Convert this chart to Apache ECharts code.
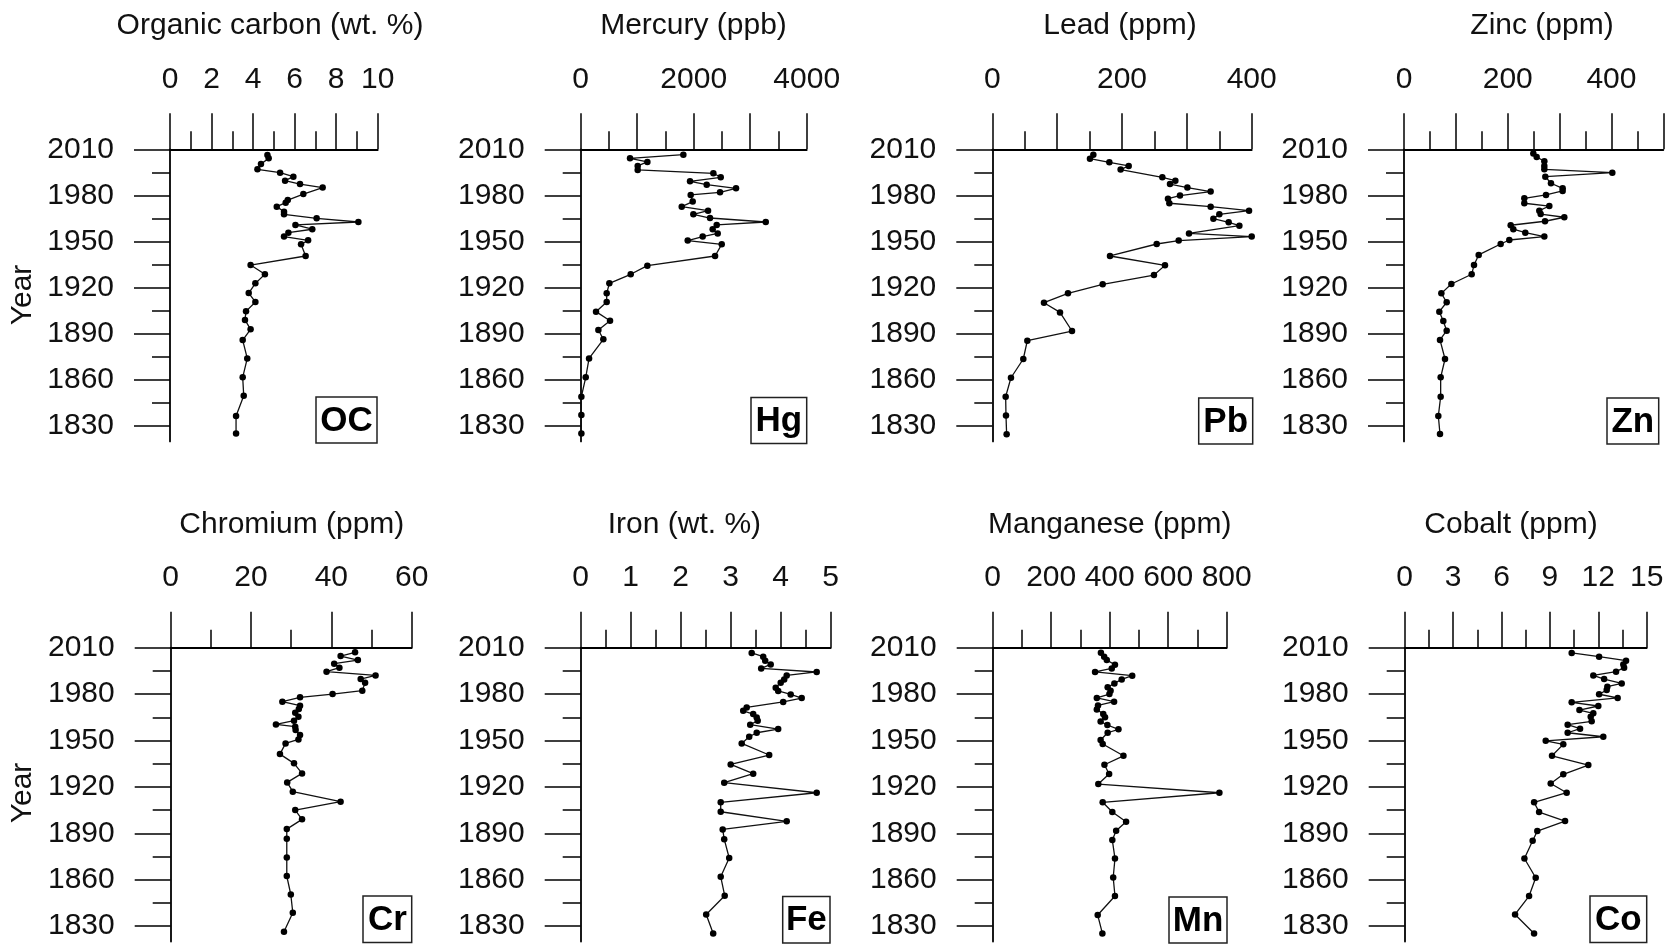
<!DOCTYPE html>
<html><head><meta charset="utf-8">
<script src="https://cdn.jsdelivr.net/npm/echarts@6/dist/echarts.min.js"></script>
<style>html,body{margin:0;padding:0;background:#fff}#c{width:1673px;height:945px}</style>
</head><body><div id="c"></div>
<script>
// ---------------- DATA ----------------
const majorYears = [2010, 1980, 1950, 1920, 1890, 1860, 1830];
const minorYears = [1995, 1965, 1935, 1905, 1875, 1845];

const ocYears = [2006.3,2004.1,2000.5,1997.0,1994.8,1992.2,1989.6,1987.4,1985.1,1980.9,1977.0,1975.3,1972.7,1969.4,1967.7,1965.1,1962.7,1960.8,1958.0,1955.8,1953.2,1950.8,1948.2,1940.6,1934.7,1928.7,1922.8,1916.5,1910.7,1904.6,1899.0,1892.9,1885.9,1874.0,1861.7,1849.7,1836.5,1825.2];
const ocValues = [4.69,4.75,4.38,4.21,5.30,5.94,5.54,6.26,7.35,6.42,5.67,5.57,5.14,5.49,5.49,7.06,9.07,6.04,6.85,5.70,5.49,6.65,6.31,6.53,3.88,4.57,4.11,3.79,4.11,3.66,3.61,3.88,3.50,3.72,3.50,3.55,3.18,3.18];

const hgYears = [2006.5,2004.1,2001.8,1999.2,1996.6,1994.4,1991.8,1989.2,1987.0,1984.6,1982.0,1980.3,1976.0,1972.7,1970.1,1967.7,1965.3,1962.7,1960.8,1958.0,1955.3,1953.2,1950.6,1948.2,1940.6,1934.3,1928.7,1922.8,1916.3,1910.7,1904.4,1898.5,1892.5,1886.4,1874.0,1861.7,1849.1,1837.2,1825.2];
const hgValues = [1817,873,1180,1009,1009,2348,2478,1935,2230,2749,2466,1947,1982,1788,2254,1994,2289,3275,2407,2336,2425,2159,1894,2496,2378,1180,885,507,460,460,271,519,313,401,148,89,12,12,12];

const pbYears = [2006.5,2003.9,2001.5,1999.2,1996.8,1991.8,1989.6,1987.4,1985.1,1982.5,1979.9,1977.9,1974.9,1972.7,1970.1,1967.7,1964.9,1962.5,1960.3,1955.3,1953.2,1950.6,1948.4,1940.6,1934.5,1928.2,1922.2,1916.3,1910.2,1903.9,1891.8,1885.5,1873.6,1861.4,1849.1,1836.9,1824.6];
const pbValues = [155.8,150.6,180.5,210.3,197.9,262.2,282.3,274.0,300.8,336.7,289.4,270.9,273.0,336.7,395.9,350.1,340.9,364.5,381.0,303.3,400.0,287.4,253.5,181.5,266.3,249.3,170.2,116.7,79.7,104.4,122.9,54.0,47.8,28.8,20.6,21.1,22.1];

const znYears = [2007.2,2005.0,2002.2,1999.2,1997.0,1994.8,1992.2,1987.9,1984.6,1982.9,1980.3,1978.1,1974.9,1973.1,1970.1,1967.9,1965.8,1963.2,1960.6,1958.0,1955.8,1953.2,1951.0,1948.4,1941.3,1934.7,1928.7,1922.4,1916.3,1910.5,1904.4,1898.3,1892.0,1886.0,1873.6,1861.7,1849.1,1836.5,1824.8];
const znValues = [249.4,255.8,270.6,270.6,270.6,401.7,272.5,283.4,305.9,305.9,273.8,232.0,232.0,280.2,260.9,263.5,309.1,271.9,205.7,210.8,233.9,270.6,203.1,186.4,144.0,135.0,130.5,91.3,72.0,82.3,68.1,75.8,82.3,69.4,79.1,70.7,70.7,66.2,69.4];

const crYears = [2007.0,2004.6,2002.0,1999.7,1997.1,1994.5,1992.1,1989.7,1987.4,1982.2,1980.0,1977.9,1975.1,1972.5,1970.3,1968.0,1965.4,1962.8,1960.4,1958.9,1956.7,1953.5,1950.7,1948.1,1941.2,1935.2,1928.7,1922.9,1916.9,1910.4,1905.0,1899.0,1892.7,1886.5,1874.4,1862.3,1850.4,1838.6,1826.3];
const crValues = [45.9,42.3,46.6,40.7,42.0,38.8,51.0,47.3,48.4,47.7,40.3,32.2,27.8,32.2,31.9,31.0,31.8,30.7,26.2,31.0,31.1,32.2,31.8,28.6,27.2,30.7,32.7,29.0,30.4,42.3,31.0,32.7,28.9,28.9,28.9,28.9,29.9,30.4,28.2];

const feYears = [2006.6,2004.2,2001.6,1999.2,1996.6,1994.3,1992.1,1989.5,1987.4,1984.1,1982.0,1979.8,1977.4,1974.9,1971.4,1969.2,1967.1,1964.9,1962.8,1960.2,1957.4,1955.0,1952.4,1948.1,1940.6,1934.5,1928.5,1922.7,1916.2,1910.0,1903.9,1897.7,1892.5,1886.2,1874.0,1861.9,1849.6,1837.5,1825.2];
const feValues = [3.42,3.65,3.69,3.80,3.61,4.72,4.12,4.07,4.00,3.90,3.95,4.20,4.42,4.05,3.32,3.25,3.45,3.52,3.54,3.39,3.95,3.52,3.37,3.22,3.77,3.00,3.45,2.87,4.72,2.80,2.80,4.12,2.84,2.87,2.97,2.80,2.88,2.51,2.65];

const mnYears = [2006.8,2004.2,2002.0,1999.0,1996.6,1994.3,1991.9,1989.5,1986.9,1984.4,1982.2,1980.0,1977.5,1975.1,1972.7,1970.1,1967.1,1965.0,1962.2,1960.0,1957.2,1955.0,1950.3,1947.7,1940.1,1934.3,1928.3,1921.8,1916.2,1910.0,1903.7,1897.5,1891.6,1885.6,1873.7,1861.4,1849.4,1837.1,1825.2];
const mnValues = [370,381,390,418,407,350,477,441,416,393,403,399,356,415,360,356,378,384,369,392,430,393,369,376,447,382,398,361,775,376,409,456,422,409,418,412,418,359,375];

const coYears = [2006.6,2004.2,2001.6,1999.2,1997.1,1994.5,1992.1,1989.7,1986.9,1984.8,1982.6,1979.9,1977.5,1974.7,1972.3,1969.7,1967.6,1965.4,1962.4,1960.2,1957.6,1955.0,1952.4,1949.8,1947.5,1940.1,1934.1,1928.1,1922.2,1916.2,1910.0,1903.7,1897.9,1891.4,1885.2,1873.7,1861.2,1849.4,1837.5,1825.2];
const coValues = [10.35,12.05,13.72,13.55,13.60,13.10,11.69,12.36,13.45,12.56,12.52,12.05,13.20,10.35,12.00,10.83,11.69,11.53,11.59,10.10,10.87,10.10,12.31,8.74,9.83,9.13,11.38,9.83,9.05,10.04,8.02,8.33,9.94,8.22,7.93,7.42,8.12,7.71,6.84,8.02];

const panelTitles = ['Organic carbon (wt. %)','Mercury (ppb)','Lead (ppm)','Zinc (ppm)','Chromium (ppm)','Iron (wt. %)','Manganese (ppm)','Cobalt (ppm)'];
const panelCodes = ['OC','Hg','Pb','Zn','Cr','Fe','Mn','Co'];
const axisMax = [10, 4000, 400, 500, 60, 5, 800, 15];
const axisStep = [2, 1000, 100, 100, 20, 1, 200, 3];
const axisLabelValues = [null, [0,2000,4000], [0,200,400], [0,200,400], null, null, null, null];
const yearLabel = 'Year';

const seriesYears = [ocYears, hgYears, pbYears, znYears, crYears, feYears, mnYears, coYears];
const seriesValues = [ocValues, hgValues, pbValues, znValues, crValues, feValues, mnValues, coValues];

// ---------------- LAYOUT ----------------
const FONT = '"Liberation Sans", Arial, Helvetica, sans-serif';
const rowTop = [149.3, 647.7];
const rowHeight = [292.1, 293.8];
const gridLeft = [170, 580.7, 992.3, 1404, 170.7, 580.7, 992.7, 1404.7];
const gridWidth = [207.7, 226, 259.4, 259.3, 241, 250, 234, 242];
const titleX = [270, 693.5, 1120, 1542, 291.8, 684.4, 1109.7, 1511];
const titleY = [26, 524.7];
const badgeBox = [
  [316, 397, 61, 46], [751, 397.5, 55.7, 46], [1198.7, 398, 54, 46], [1607, 398, 51.7, 46],
  [363, 896, 48.7, 46.5], [782.7, 896.5, 47.3, 46.5], [1169, 897, 58, 46], [1590, 896, 56.7, 46.5]
];
const yearPos = [[22.5, 295], [22.5, 793]];

const plain = v => String(v);
const grids = [], xAxes = [], yAxes = [], series = [], graphics = [];
const black = '#000';
for (let i = 0; i < 8; i++) {
  const row = i < 4 ? 0 : 1;
  grids.push({left: gridLeft[i], top: rowTop[row], width: gridWidth[i], height: rowHeight[row], containLabel: false});
  const lbl = {fontSize: 30, color: '#111', fontFamily: FONT, margin: 55, showMinLabel: true, showMaxLabel: true, formatter: plain};
  if (axisLabelValues[i]) lbl.customValues = axisLabelValues[i];
  xAxes.push({
    type: 'value', gridIndex: i, position: 'top', min: 0, max: axisMax[i], interval: axisStep[i],
    axisLine: {show: true, onZero: false, lineStyle: {color: black, width: 1.8}},
    axisTick: {show: true, length: 36, lineStyle: {color: black, width: 1.5}},
    minorTick: {show: true, splitNumber: 2, length: 18, lineStyle: {color: black, width: 1.5}},
    splitLine: {show: false}, minorSplitLine: {show: false},
    axisLabel: lbl
  });
  yAxes.push({
    type: 'value', gridIndex: i, position: 'left', min: 1820, max: 2010,
    axisLine: {show: true, onZero: false, lineStyle: {color: black, width: 1.8}},
    axisTick: {show: true, length: 36, customValues: majorYears, lineStyle: {color: black, width: 1.5}},
    axisLabel: {customValues: majorYears, fontSize: 30, color: '#111', fontFamily: FONT, margin: 56, formatter: plain},
    splitLine: {show: false}
  });
  yAxes.push({
    type: 'value', gridIndex: i, position: 'left', min: 1820, max: 2010,
    axisLine: {show: false, onZero: false},
    axisTick: {show: true, length: 18, customValues: minorYears, lineStyle: {color: black, width: 1.5}},
    axisLabel: {show: false},
    splitLine: {show: false}
  });
  const ys = seriesYears[i], vs = seriesValues[i];
  const n = Math.min(ys.length, vs.length);
  const data = [];
  for (let k = 0; k < n; k++) data.push([vs[k], ys[k]]);
  series.push({
    type: 'line', xAxisIndex: i, yAxisIndex: 2 * i, data: data,
    symbol: 'circle', symbolSize: 6.5, showSymbol: true, clip: false,
    lineStyle: {color: '#111', width: 1.3}, itemStyle: {color: '#000'},
    emphasis: {disabled: true}, animation: false
  });
  graphics.push({
    type: 'text', x: titleX[i], y: titleY[row],
    style: {text: panelTitles[i], font: '30px ' + FONT, fill: '#111', textAlign: 'center', textVerticalAlign: 'middle'}
  });
  const b = badgeBox[i];
  graphics.push({
    type: 'rect', shape: {x: b[0], y: b[1], width: b[2], height: b[3]},
    style: {fill: '#fff', stroke: '#222', lineWidth: 1.5}
  });
  graphics.push({
    type: 'text', x: b[0] + b[2] / 2, y: b[1] + b[3] / 2 + 1,
    style: {text: panelCodes[i], font: 'bold 35px ' + FONT, fill: '#000', textAlign: 'center', textVerticalAlign: 'middle'}
  });
}
yearPos.forEach(p => graphics.push({
  type: 'text', x: p[0], y: p[1], rotation: Math.PI / 2,
  style: {text: yearLabel, font: '30px ' + FONT, fill: '#111', textAlign: 'center', textVerticalAlign: 'middle'}
}));

const chart = echarts.init(document.getElementById('c'), null, {renderer: 'canvas'});
chart.setOption({
  backgroundColor: '#fff', animation: false,
  grid: grids, xAxis: xAxes, yAxis: yAxes, series: series, graphic: graphics
});
</script></body></html>
